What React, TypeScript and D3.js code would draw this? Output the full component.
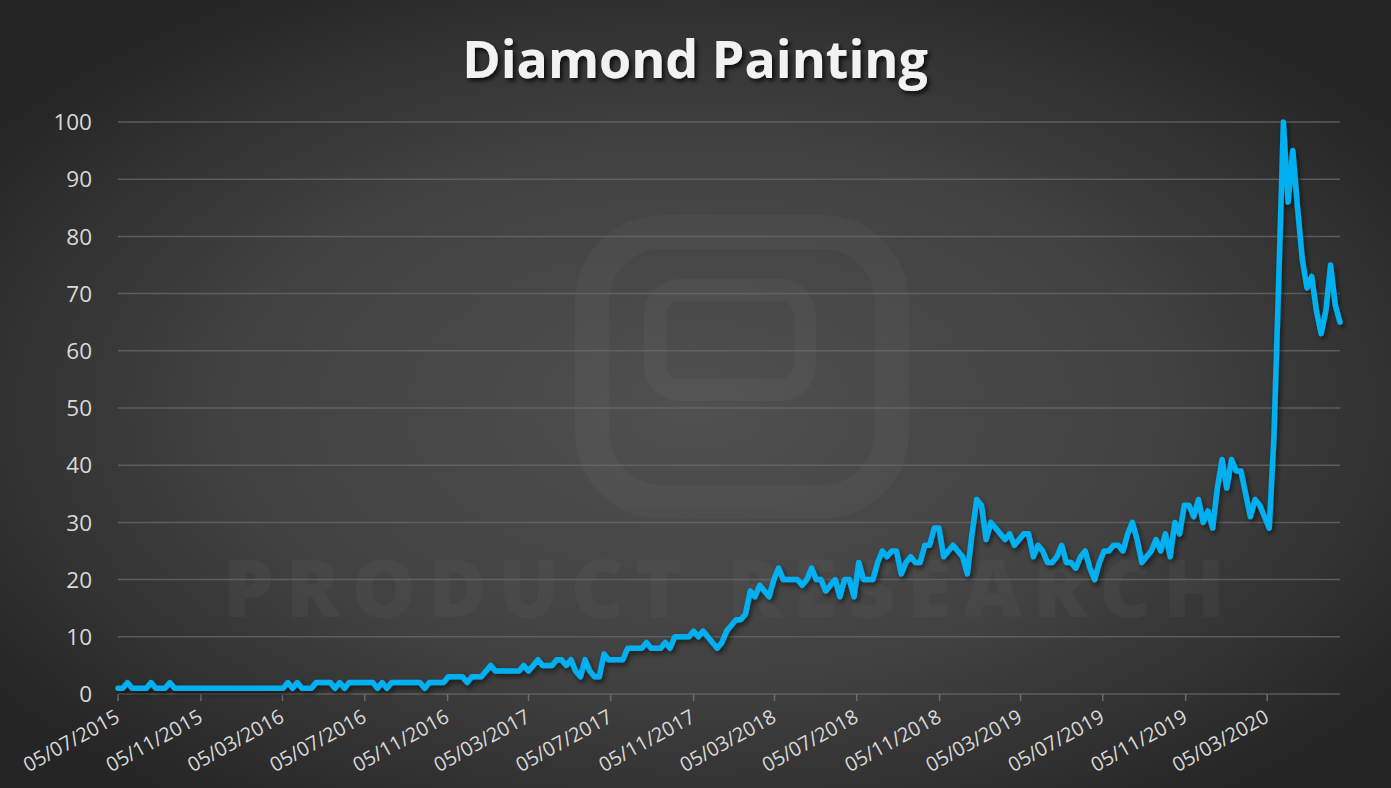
import React from 'react';
import * as d3 from 'd3';

const TITLE = 'Diamond Painting';
const START_WEEK = '2015-07-05';

// Weekly search interest (Google Trends style, 0-100), one value per week from START_WEEK
const interest: number[] = [
  1, 1, 2, 1, 1, 1, 1, 2, 1, 1, 1, 2,
  1, 1, 1, 1, 1, 1, 1, 1, 1, 1, 1, 1,
  1, 1, 1, 1, 1, 1, 1, 1, 1, 1, 1, 1,
  2, 1, 2, 1, 1, 1, 2, 2, 2, 2, 1, 2,
  1, 2, 2, 2, 2, 2, 2, 1, 2, 1, 2, 2,
  2, 2, 2, 2, 2, 1, 2, 2, 2, 2, 3, 3,
  3, 3, 2, 3, 3, 3, 4, 5, 4, 4, 4, 4,
  4, 4, 5, 4, 5, 6, 5, 5, 5, 6, 6, 5,
  6, 4, 3, 6, 4, 3, 3, 7, 6, 6, 6, 6,
  8, 8, 8, 8, 9, 8, 8, 8, 9, 8, 10, 10,
  10, 10, 11, 10, 11, 10, 9, 8, 9, 11, 12, 13,
  13, 14, 18, 17, 19, 18, 17, 20, 22, 20, 20, 20,
  20, 19, 20, 22, 20, 20, 18, 19, 20, 17, 20, 20,
  17, 23, 20, 20, 20, 23, 25, 24, 25, 25, 21, 23,
  24, 23, 23, 26, 26, 29, 29, 24, 25, 26, 25, 24,
  21, 28, 34, 33, 27, 30, 29, 28, 27, 28, 26, 27,
  28, 28, 24, 26, 25, 23, 23, 24, 26, 23, 23, 22,
  24, 25, 22, 20, 23, 25, 25, 26, 26, 25, 28, 30,
  27, 23, 24, 25, 27, 25, 28, 24, 30, 28, 33, 33,
  31, 34, 30, 32, 29, 36, 41, 36, 41, 39, 39, 35,
  31, 34, 33, 31, 29, 45, 72, 100, 86, 95, 85, 76,
  71, 73, 67, 63, 67, 75, 68, 65,
];

const tickDates = [
  '2015-07-05', '2015-11-05', '2016-03-05', '2016-07-05', '2016-11-05',
  '2017-03-05', '2017-07-05', '2017-11-05', '2018-03-05', '2018-07-05',
  '2018-11-05', '2019-03-05', '2019-07-05', '2019-11-05', '2020-03-05',
];

const yTicks = [0, 10, 20, 30, 40, 50, 60, 70, 80, 90, 100];

const WATERMARK = 'PRODUCT RESEARCH';

export default function App() {
  const W = 1391;
  const H = 788;
  const left = 118;
  const right = 1340;
  const top = 122;
  const bottom = 694;

  const parse = d3.timeParse('%Y-%m-%d');
  const start = parse(START_WEEK) as Date;
  const dates = interest.map((_, i) => d3.timeDay.offset(start, i * 7));
  const x = d3.scaleTime().domain([start, dates[dates.length - 1]]).range([left, right]);
  const y = d3.scaleLinear().domain([0, 100]).range([bottom, top]);
  const fmt = d3.timeFormat('%d/%m/%Y');

  const line = d3
    .line<number>()
    .x((_, i) => x(dates[i]))
    .y((d) => y(d));

  const font = "'Open Sans', 'Noto Sans', sans-serif";

  return (
    <div style={{ position: 'absolute', left: 0, top: 0 }}>
      <svg width={W} height={H} style={{ display: 'block' }}>
        <defs>
          <radialGradient id="bg" cx="50%" cy="52%" r="62%">
            <stop offset="0%" stopColor="#505050" />
            <stop offset="55%" stopColor="#414141" />
            <stop offset="100%" stopColor="#252525" />
          </radialGradient>
          <filter id="titleShadow" x="-10%" y="-30%" width="120%" height="160%">
            <feDropShadow dx="2.5" dy="3" stdDeviation="2" floodColor="#000" floodOpacity="0.75" />
          </filter>
          <filter id="lineShadow" x="-5%" y="-5%" width="110%" height="110%">
            <feDropShadow dx="2" dy="3" stdDeviation="2.5" floodColor="#000" floodOpacity="0.55" />
          </filter>
        </defs>
        <rect x={0} y={0} width={W} height={H} fill="url(#bg)" />

        {/* faint watermark */}
        <g opacity={0.028} fill="none" stroke="#ffffff" strokeWidth={34}>
          <rect x={592} y={232} width={300} height={270} rx={70} />
          <rect x={655} y={290} width={150} height={100} rx={25} strokeWidth={22} />
        </g>
        <text
          x={730}
          y={617}
          textAnchor="middle"
          fontFamily={font}
          fontWeight={800}
          fontSize={80}
          letterSpacing={12}
          fill="#ffffff"
          opacity={0.028}
        >
          {WATERMARK}
        </text>

        {/* title */}
        <text
          x={695}
          y={78}
          textAnchor="middle"
          fontFamily={font}
          fontWeight={700}
          fontSize={52}
          fill="#f2f2f2"
          filter="url(#titleShadow)"
        >
          {TITLE}
        </text>

        {/* gridlines */}
        {yTicks.map((t) => (
          <line
            key={'g' + t}
            x1={left}
            x2={right}
            y1={y(t)}
            y2={y(t)}
            stroke="#6a6a6a"
            strokeOpacity={0.75}
            strokeWidth={1.5}
          />
        ))}

        {/* y labels */}
        {yTicks.map((t) => (
          <text
            key={'yl' + t}
            x={92}
            y={y(t)}
            dy="0.36em"
            textAnchor="end"
            fontFamily={font}
            fontSize={22.5}
            fill="#d9d9d9"
          >
            {t}
          </text>
        ))}

        {/* x ticks */}
        {tickDates.map((s) => {
          const d = parse(s) as Date;
          const tx = x(d);
          return (
            <g key={s}>
              <line x1={tx} x2={tx} y1={bottom} y2={bottom + 7} stroke="#6a6a6a" strokeWidth={1.5} />
              <text
                transform={`translate(${tx + 3},${bottom + 27}) rotate(-29)`}
                textAnchor="end"
                fontFamily={font}
                fontSize={20}
                fill="#d9d9d9"
              >
                {fmt(d)}
              </text>
            </g>
          );
        })}

        {/* data line */}
        <path
          d={line(interest) || ''}
          fill="none"
          stroke="#00b0f0"
          strokeWidth={5.5}
          strokeLinejoin="round"
          strokeLinecap="round"
          filter="url(#lineShadow)"
        />
      </svg>
    </div>
  );
}
